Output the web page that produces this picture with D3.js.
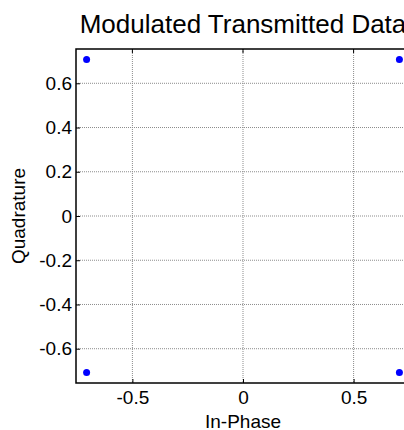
<!DOCTYPE html>
<html>
<head>
<meta charset="utf-8">
<script src="https://cdn.jsdelivr.net/npm/d3@7"></script>
<style>
  body { margin: 0; background: #fff; }
  text { font-family: "Liberation Sans", Arial, sans-serif; fill: #000; }
</style>
</head>
<body>
<div id="chart-area"></div>
<script>
// constellation points (QPSK)
var inPhase = [-0.7071, -0.7071, 0.7071, 0.7071];
var quadrature = [0.7071, -0.7071, 0.7071, -0.7071];

var xTicks = [-0.5, 0, 0.5];
var xTickLabels = ["-0.5", "0", "0.5"];
var yTicks = [-0.6, -0.4, -0.2, 0, 0.2, 0.4, 0.6];
var yTickLabels = ["-0.6", "-0.4", "-0.2", "0", "0.2", "0.4", "0.6"];

var width = 404, height = 430;
// plot box (right edge runs past the window, as in the reference)
var boxL = 76, boxT = 49, boxR = 410, boxB = 383;

var svg = d3.select("#chart-area").append("svg")
    .attr("width", width)
    .attr("height", height);

var x = d3.scaleLinear().domain([-0.755, 0.755]).range([boxL, boxR]);
var y = d3.scaleLinear().domain([-0.755, 0.755]).range([boxB, boxT]);

// grid
svg.append("g").selectAll("line")
    .data(xTicks)
    .enter().append("line")
        .attr("x1", (d) => x(d)).attr("x2", (d) => x(d))
        .attr("y1", boxT).attr("y2", boxB)
        .attr("stroke", "#8c8c8c")
        .attr("stroke-dasharray", "1,1");

svg.append("g").selectAll("line")
    .data(yTicks)
    .enter().append("line")
        .attr("x1", boxL).attr("x2", boxR)
        .attr("y1", (d) => y(d)).attr("y2", (d) => y(d))
        .attr("stroke", "#8c8c8c")
        .attr("stroke-dasharray", "1,1");

// axes, ticks pointing inward like matlab
var xAxis = d3.axisBottom(x)
    .tickValues(xTicks)
    .tickFormat((d, i) => xTickLabels[i])
    .tickSizeInner(-4).tickSizeOuter(0).tickPadding(8);

var yAxis = d3.axisLeft(y)
    .tickValues(yTicks)
    .tickFormat((d, i) => yTickLabels[i])
    .tickSizeInner(-4).tickSizeOuter(0).tickPadding(4);

var gx = svg.append("g")
    .attr("transform", "translate(0," + boxB + ")")
    .call(xAxis);
var gy = svg.append("g")
    .attr("transform", "translate(" + boxL + ",0)")
    .call(yAxis);

[gx, gy].forEach((g) => {
    g.selectAll(".domain").remove();
    g.selectAll("line").attr("stroke", "#000");
    g.selectAll("text")
        .style("font-family", "'Liberation Sans', Arial, sans-serif")
        .style("font-size", "19px")
        .attr("fill", "#000");
});

// top ticks
svg.append("g").selectAll("line")
    .data(xTicks)
    .enter().append("line")
        .attr("x1", (d) => x(d)).attr("x2", (d) => x(d))
        .attr("y1", boxT).attr("y2", boxT + 4)
        .attr("stroke", "#000");

// box
svg.append("rect")
    .attr("x", boxL).attr("y", boxT)
    .attr("width", boxR - boxL).attr("height", boxB - boxT)
    .attr("fill", "none")
    .attr("stroke", "#000")
    .attr("stroke-width", 1.5);

// points
svg.append("g").selectAll("circle")
    .data(inPhase)
    .enter().append("circle")
        .attr("cx", (d) => x(d))
        .attr("cy", (d, i) => y(quadrature[i]))
        .attr("r", 3.5)
        .attr("fill", "#0000ff");

// labels
svg.append("text")
    .attr("x", (boxL + boxR) / 2)
    .attr("y", 33)
    .attr("text-anchor", "middle")
    .style("font-size", "26px")
    .text("Modulated Transmitted Data");

svg.append("text")
    .attr("x", x(0))
    .attr("y", 428)
    .attr("text-anchor", "middle")
    .style("font-size", "19px")
    .text("In-Phase");

svg.append("text")
    .attr("transform", "translate(25," + y(0) + ") rotate(-90)")
    .attr("text-anchor", "middle")
    .style("font-size", "19px")
    .text("Quadrature");
</script>
</body>
</html>
